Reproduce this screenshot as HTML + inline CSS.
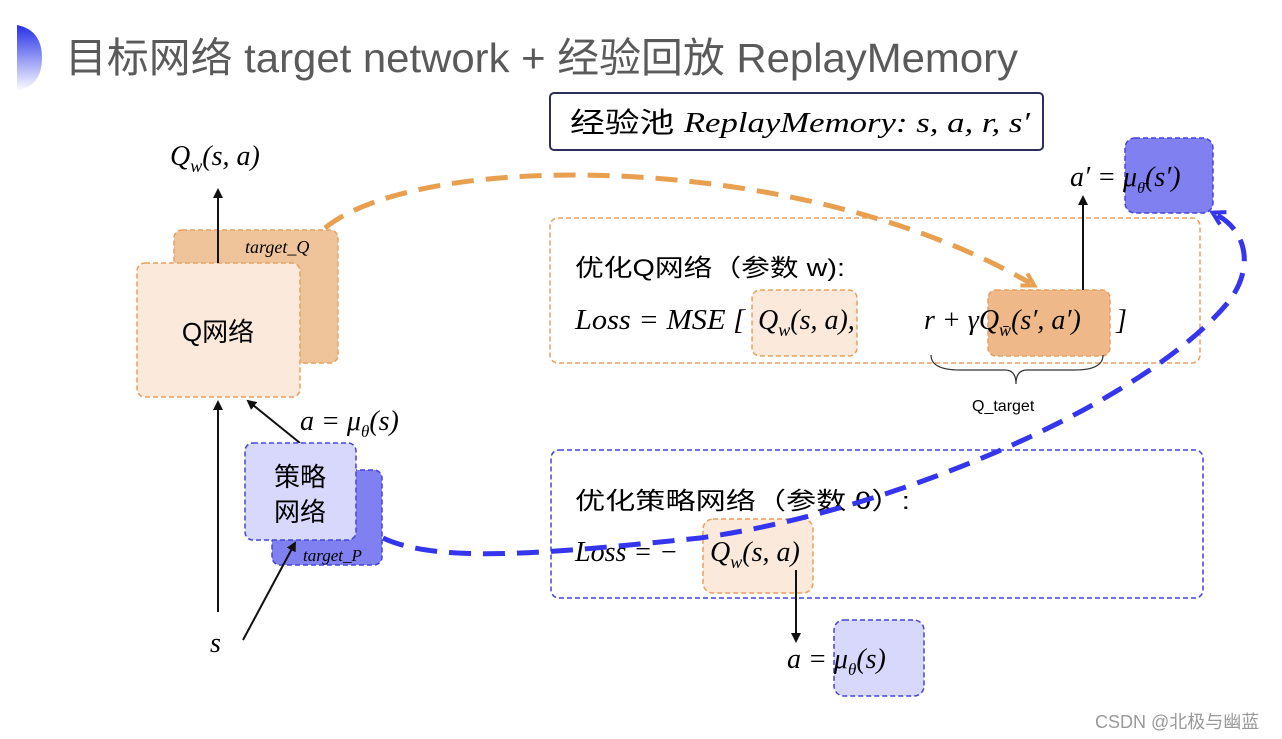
<!DOCTYPE html>
<html><head><meta charset="utf-8"><style>
html,body{margin:0;padding:0;background:#fff;width:1282px;height:739px;overflow:hidden}
svg{display:block}
.m{font-family:"Liberation Serif","DejaVu Serif",serif;font-style:italic}
.c{font-family:"Liberation Sans","Noto Sans CJK SC",sans-serif}
</style></head><body>
<svg width="1282" height="739" viewBox="0 0 1282 739" xmlns="http://www.w3.org/2000/svg">
<defs>
<linearGradient id="g" x1="0" y1="0" x2="0" y2="1"><stop offset="0" stop-color="#2530e8"/><stop offset="1" stop-color="#ffffff"/></linearGradient>
<marker id="ah" markerWidth="10" markerHeight="10" refX="8" refY="5" orient="auto" markerUnits="userSpaceOnUse"><path d="M0,0 L10,5 L0,10 z" fill="#111"/></marker>
<marker id="ao" markerWidth="18" markerHeight="18" refX="9" refY="9" orient="auto" markerUnits="userSpaceOnUse"><path d="M2,2 L14,9 L2,16" fill="none" stroke="#e8a050" stroke-width="4"/></marker>
<marker id="ab" markerWidth="18" markerHeight="18" refX="9" refY="9" orient="auto" markerUnits="userSpaceOnUse"><path d="M2,2 L14,9 L2,16" fill="none" stroke="#3535ee" stroke-width="4"/></marker>
</defs>
<path d="M17,25 Q42,30 42,58 Q42,86 17,91 Z" fill="url(#g)"/>
<text x="65" y="72" class="c" font-size="41" fill="#5a5a5a" textLength="953" lengthAdjust="spacingAndGlyphs">目标网络 target network + 经验回放 ReplayMemory</text>

<rect x="550" y="93" width="493" height="57" rx="4" fill="#fff" stroke="#2d2d5a" stroke-width="2"/>
<text x="570" y="132" font-size="28" textLength="460" lengthAdjust="spacingAndGlyphs"><tspan class="c">经验池 </tspan><tspan class="m">ReplayMemory:  s, a, r, s′</tspan></text>

<text x="170" y="165" class="m" font-size="28">Q<tspan font-size="18" dy="7">w</tspan><tspan dy="-7">(s, a)</tspan></text>
<rect x="174" y="230" width="164" height="133" rx="8" fill="#f0c49a" stroke="#e8a060" stroke-width="1.5" stroke-dasharray="5,3"/>
<text x="245" y="253" class="m" font-size="18">target_Q</text>
<rect x="137" y="263" width="163" height="134" rx="8" fill="#fbeadb" stroke="#e8a060" stroke-width="1.5" stroke-dasharray="5,3"/>
<text x="218" y="341" class="c" font-size="26" text-anchor="middle">Q网络</text>
<line x1="218" y1="263" x2="218" y2="190" stroke="#111" stroke-width="2" marker-end="url(#ah)"/>
<line x1="218" y1="612" x2="218" y2="402" stroke="#111" stroke-width="2" marker-end="url(#ah)"/>
<line x1="300" y1="443" x2="248" y2="401" stroke="#111" stroke-width="2" marker-end="url(#ah)"/>
<text x="300" y="430" class="m" font-size="28">a = μ<tspan font-size="17" dy="7">θ</tspan><tspan dy="-7">(s)</tspan></text>

<rect x="272" y="470" width="110" height="95" rx="8" fill="#8080f0" stroke="#4444dd" stroke-width="1.5" stroke-dasharray="5,3"/>
<text x="303" y="561" class="m" font-size="17">target_P</text>
<rect x="245" y="443" width="111" height="97" rx="8" fill="#d8d8fc" stroke="#4444dd" stroke-width="1.5" stroke-dasharray="5,3"/>
<text x="300" y="486" class="c" font-size="26" text-anchor="middle">策略</text>
<text x="300" y="521" class="c" font-size="26" text-anchor="middle">网络</text>
<line x1="243" y1="640" x2="295" y2="543" stroke="#111" stroke-width="2" marker-end="url(#ah)"/>
<text x="210" y="652" class="m" font-size="28">s</text>

<rect x="550" y="218" width="650" height="145" rx="8" fill="none" stroke="#e8a060" stroke-width="1.5" stroke-dasharray="5,3"/>
<text x="575" y="276" class="c" font-size="24" textLength="270" lengthAdjust="spacingAndGlyphs">优化Q网络（参数 w):</text>
<rect x="752" y="290" width="105" height="66" rx="8" fill="#fbeadb" stroke="#e8a060" stroke-width="1.5" stroke-dasharray="5,3"/>
<rect x="988" y="290" width="122" height="66" rx="8" fill="#eeb888" stroke="#e8a060" stroke-width="1.5" stroke-dasharray="5,3"/>
<text x="575" y="329" class="m" font-size="28" textLength="170" lengthAdjust="spacingAndGlyphs">Loss = MSE [</text>
<text x="758" y="329" class="m" font-size="28">Q<tspan font-size="18" dy="7">w</tspan><tspan dy="-7">(s, a),</tspan></text>
<text x="924" y="329" class="m" font-size="28">r + γQ<tspan font-size="18" dy="7">w̄</tspan><tspan dy="-7">(s′, a′)</tspan></text>
<text x="1116" y="329" class="m" font-size="28">]</text>
<path d="M931,355 Q931,370 960,370 L1005,370 Q1016,370 1016,384 Q1016,370 1027,370 L1075,370 Q1103,370 1103,355" fill="none" stroke="#333" stroke-width="1.2"/>
<text x="972" y="411" class="c" font-size="16">Q_target</text>
<line x1="1083" y1="290" x2="1083" y2="197" stroke="#111" stroke-width="2" marker-end="url(#ah)"/>
<rect x="1125" y="138" width="88" height="75" rx="10" fill="#8080f0" stroke="#4444dd" stroke-width="1.5" stroke-dasharray="5,3"/>
<text x="1070" y="186" class="m" font-size="28">a′ = μ<tspan font-size="16" dy="7">θ̄</tspan><tspan dy="-7">(s′)</tspan></text>

<rect x="551" y="450" width="652" height="148" rx="8" fill="none" stroke="#4444dd" stroke-width="1.5" stroke-dasharray="5,3"/>
<text x="575" y="509" class="c" font-size="24" textLength="335" lengthAdjust="spacingAndGlyphs">优化策略网络（参数 θ）:</text>
<rect x="703" y="519" width="110" height="74" rx="10" fill="#fbeadb" stroke="#e8a060" stroke-width="1.5" stroke-dasharray="5,3"/>
<text x="575" y="561" class="m" font-size="28">Loss = −</text>
<text x="710" y="561" class="m" font-size="28">Q<tspan font-size="18" dy="7">w</tspan><tspan dy="-7">(s, a)</tspan></text>
<line x1="796" y1="570" x2="796" y2="641" stroke="#111" stroke-width="2" marker-end="url(#ah)"/>
<rect x="834" y="620" width="90" height="76" rx="10" fill="#d8d8fc" stroke="#4444dd" stroke-width="1.5" stroke-dasharray="5,3"/>
<text x="787" y="668" class="m" font-size="28">a = μ<tspan font-size="17" dy="7">θ</tspan><tspan dy="-7">(s)</tspan></text>

<path d="M325,228 C420,150 800,150 1030,283" fill="none" stroke="#e8a050" stroke-width="5" stroke-dasharray="22,12" marker-end="url(#ao)"/>
<path d="M383,538 C440,565 560,552 700,538 C900,510 1150,400 1230,300 C1255,265 1245,230 1217,215" fill="none" stroke="#3535ee" stroke-width="5" stroke-dasharray="22,12" marker-end="url(#ab)"/>

<text x="1095" y="728" class="c" font-size="18" fill="#999">CSDN @北极与幽蓝</text>
</svg>
</body></html>
